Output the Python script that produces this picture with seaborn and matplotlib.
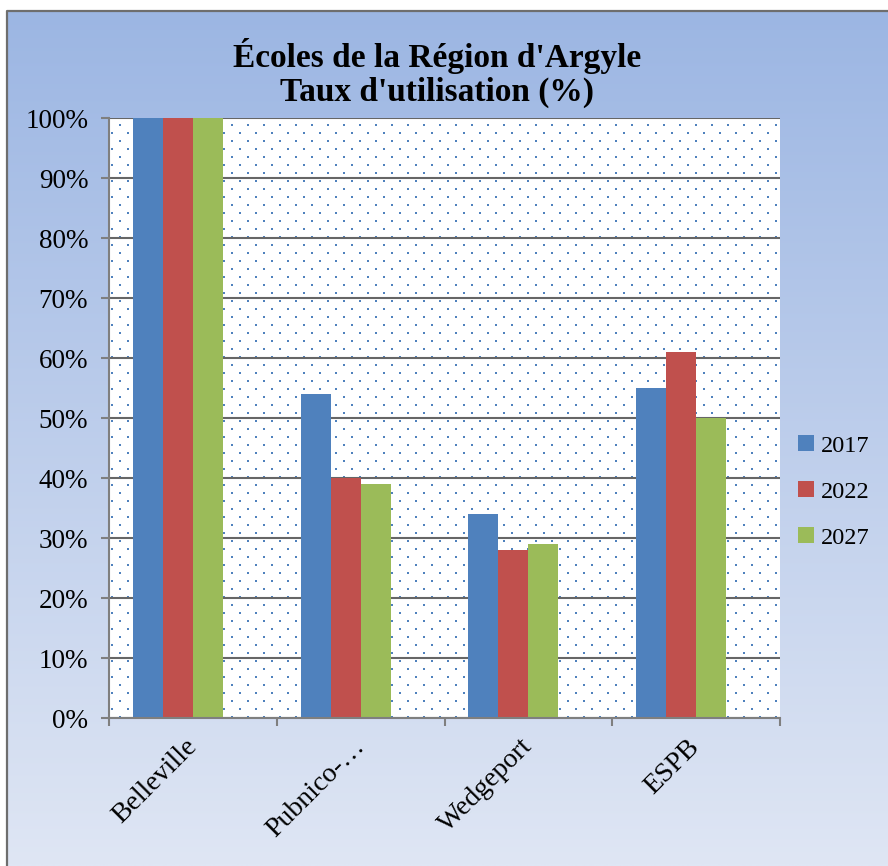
import numpy as np
import pandas as pd
import matplotlib
matplotlib.use("Agg")
import matplotlib.pyplot as plt
from matplotlib.patches import Patch
import seaborn as sns

# ---- data ----
ecoles = ["Belleville", "Pubnico-…", "Wedgeport", "ESPB"]
annees = ["2017", "2022", "2027"]
taux_2017 = [100, 54, 34, 55]
taux_2022 = [100, 40, 28, 61]
taux_2027 = [100, 39, 29, 50]
y_ticks = [0, 10, 20, 30, 40, 50, 60, 70, 80, 90, 100]
couleurs = ["#4F81BD", "#C0504D", "#9BBB59"]

# long table (a fourth, empty series reserves space like the original chart)
rows = []
for an, vals in zip(annees, [taux_2017, taux_2022, taux_2027]):
    for e, v in zip(ecoles, vals):
        rows.append({"École": e, "Année": an, "Taux": v})
for e in ecoles:
    rows.append({"École": e, "Année": "vide", "Taux": 0})
df = pd.DataFrame(rows)

W, H = 888, 866
fig = plt.figure(figsize=(W / 100, H / 100), dpi=100)
fig.patch.set_facecolor("white")

# ---- background gradient + border ----
bg = fig.add_axes([0, 0, 1, 1], zorder=-10)
bg.set_xlim(0, W)
bg.set_ylim(H, 0)
bg.axis("off")
top = np.array([0x9C, 0xB6, 0xE3]) / 255
bot = np.array([0xDF, 0xE6, 0xF4]) / 255
t = np.linspace(0, 1, 256)[:, None]
grad = top[None, :] * (1 - t) + bot[None, :] * t
grad = grad[:, None, :].repeat(2, axis=1)
bg.imshow(grad, extent=(7, W, H, 11), aspect="auto", interpolation="bilinear")
bg.plot([7, 7, W], [H, 11, 11], color="#6E6E6E", lw=1.6, solid_capstyle="butt")

# ---- plot area ----
L, R, T, B = 109, 780, 118, 718
ax = fig.add_axes([L / W, (H - B) / H, (R - L) / W, (B - T) / H])
ax.set_facecolor("white")

# dotted fill pattern of the plot area
ys_px = np.arange(125, 718, 8)
pts_x, pts_y = [], []
for j, yp in enumerate(ys_px):
    start = 120 if j % 2 == 0 else 112
    for xp in np.arange(start, 780, 16):
        pts_x.append(-0.5 + (xp - L) / (R - L) * 4)
        pts_y.append((B - yp) / (B - T) * 100)
ax.scatter(pts_x, pts_y, s=2.6, marker="s", color="#4F81BD", linewidths=0, zorder=0.2)

sns.barplot(data=df, x="École", y="Taux", hue="Année",
            hue_order=annees + ["vide"],
            palette=couleurs + ["#FFFFFF"], saturation=1, errorbar=None,
            width=0.7154, linewidth=0, ax=ax, zorder=1)

ax.set_xlim(-0.5, 3.5)
ax.set_ylim(0, 100)
ax.set_yticks(y_ticks)
ax.set_yticklabels([f"{v}%" for v in y_ticks])
ax.set_xlabel("")
ax.set_ylabel("")

ax.set_axisbelow(True)
ax.yaxis.grid(True, color="#666666", linewidth=1.5)
ax.xaxis.grid(False)

for s in ["top", "right"]:
    ax.spines[s].set_visible(False)
for s in ["left", "bottom"]:
    ax.spines[s].set_color("#7F7F7F")
    ax.spines[s].set_linewidth(1.5)

serif = ["Liberation Serif", "DejaVu Serif"]
ax.tick_params(axis="y", direction="out", length=6, width=1.5, color="#7F7F7F",
               pad=9, labelsize=19.5)
for lab in ax.get_yticklabels():
    lab.set_fontfamily(serif)
ax.tick_params(axis="x", which="major", length=0, pad=18, labelsize=20)
ax.set_xticks([-0.5, 0.5, 1.5, 2.5, 3.5], minor=True)
ax.tick_params(axis="x", which="minor", direction="out", length=6, width=1.5,
               color="#7F7F7F")
for lab in ax.get_xticklabels():
    lab.set_fontfamily(serif)
    lab.set_rotation(45)
    lab.set_ha("right")
    lab.set_va("center")
    lab.set_rotation_mode("anchor")

# legend (only the three real series)
leg_handles = [Patch(facecolor=c, edgecolor="none") for c in couleurs]
if ax.get_legend() is not None:
    ax.get_legend().remove()
fig.legend(leg_handles, annees, loc="center left",
           bbox_to_anchor=(798 / W, (H - 492) / H), frameon=False,
           prop={"family": serif, "size": 17.5}, handlelength=0.65,
           handleheight=0.65, handletextpad=0.3, labelspacing=1.0,
           borderpad=0, borderaxespad=0)

fig.text(437 / W, (H - 73) / H, "Écoles de la Région d'Argyle\nTaux d'utilisation (%)",
         ha="center", va="center", fontsize=24, fontweight="bold",
         family=serif, linespacing=1.1)

fig.savefig("out.png", dpi=100)
